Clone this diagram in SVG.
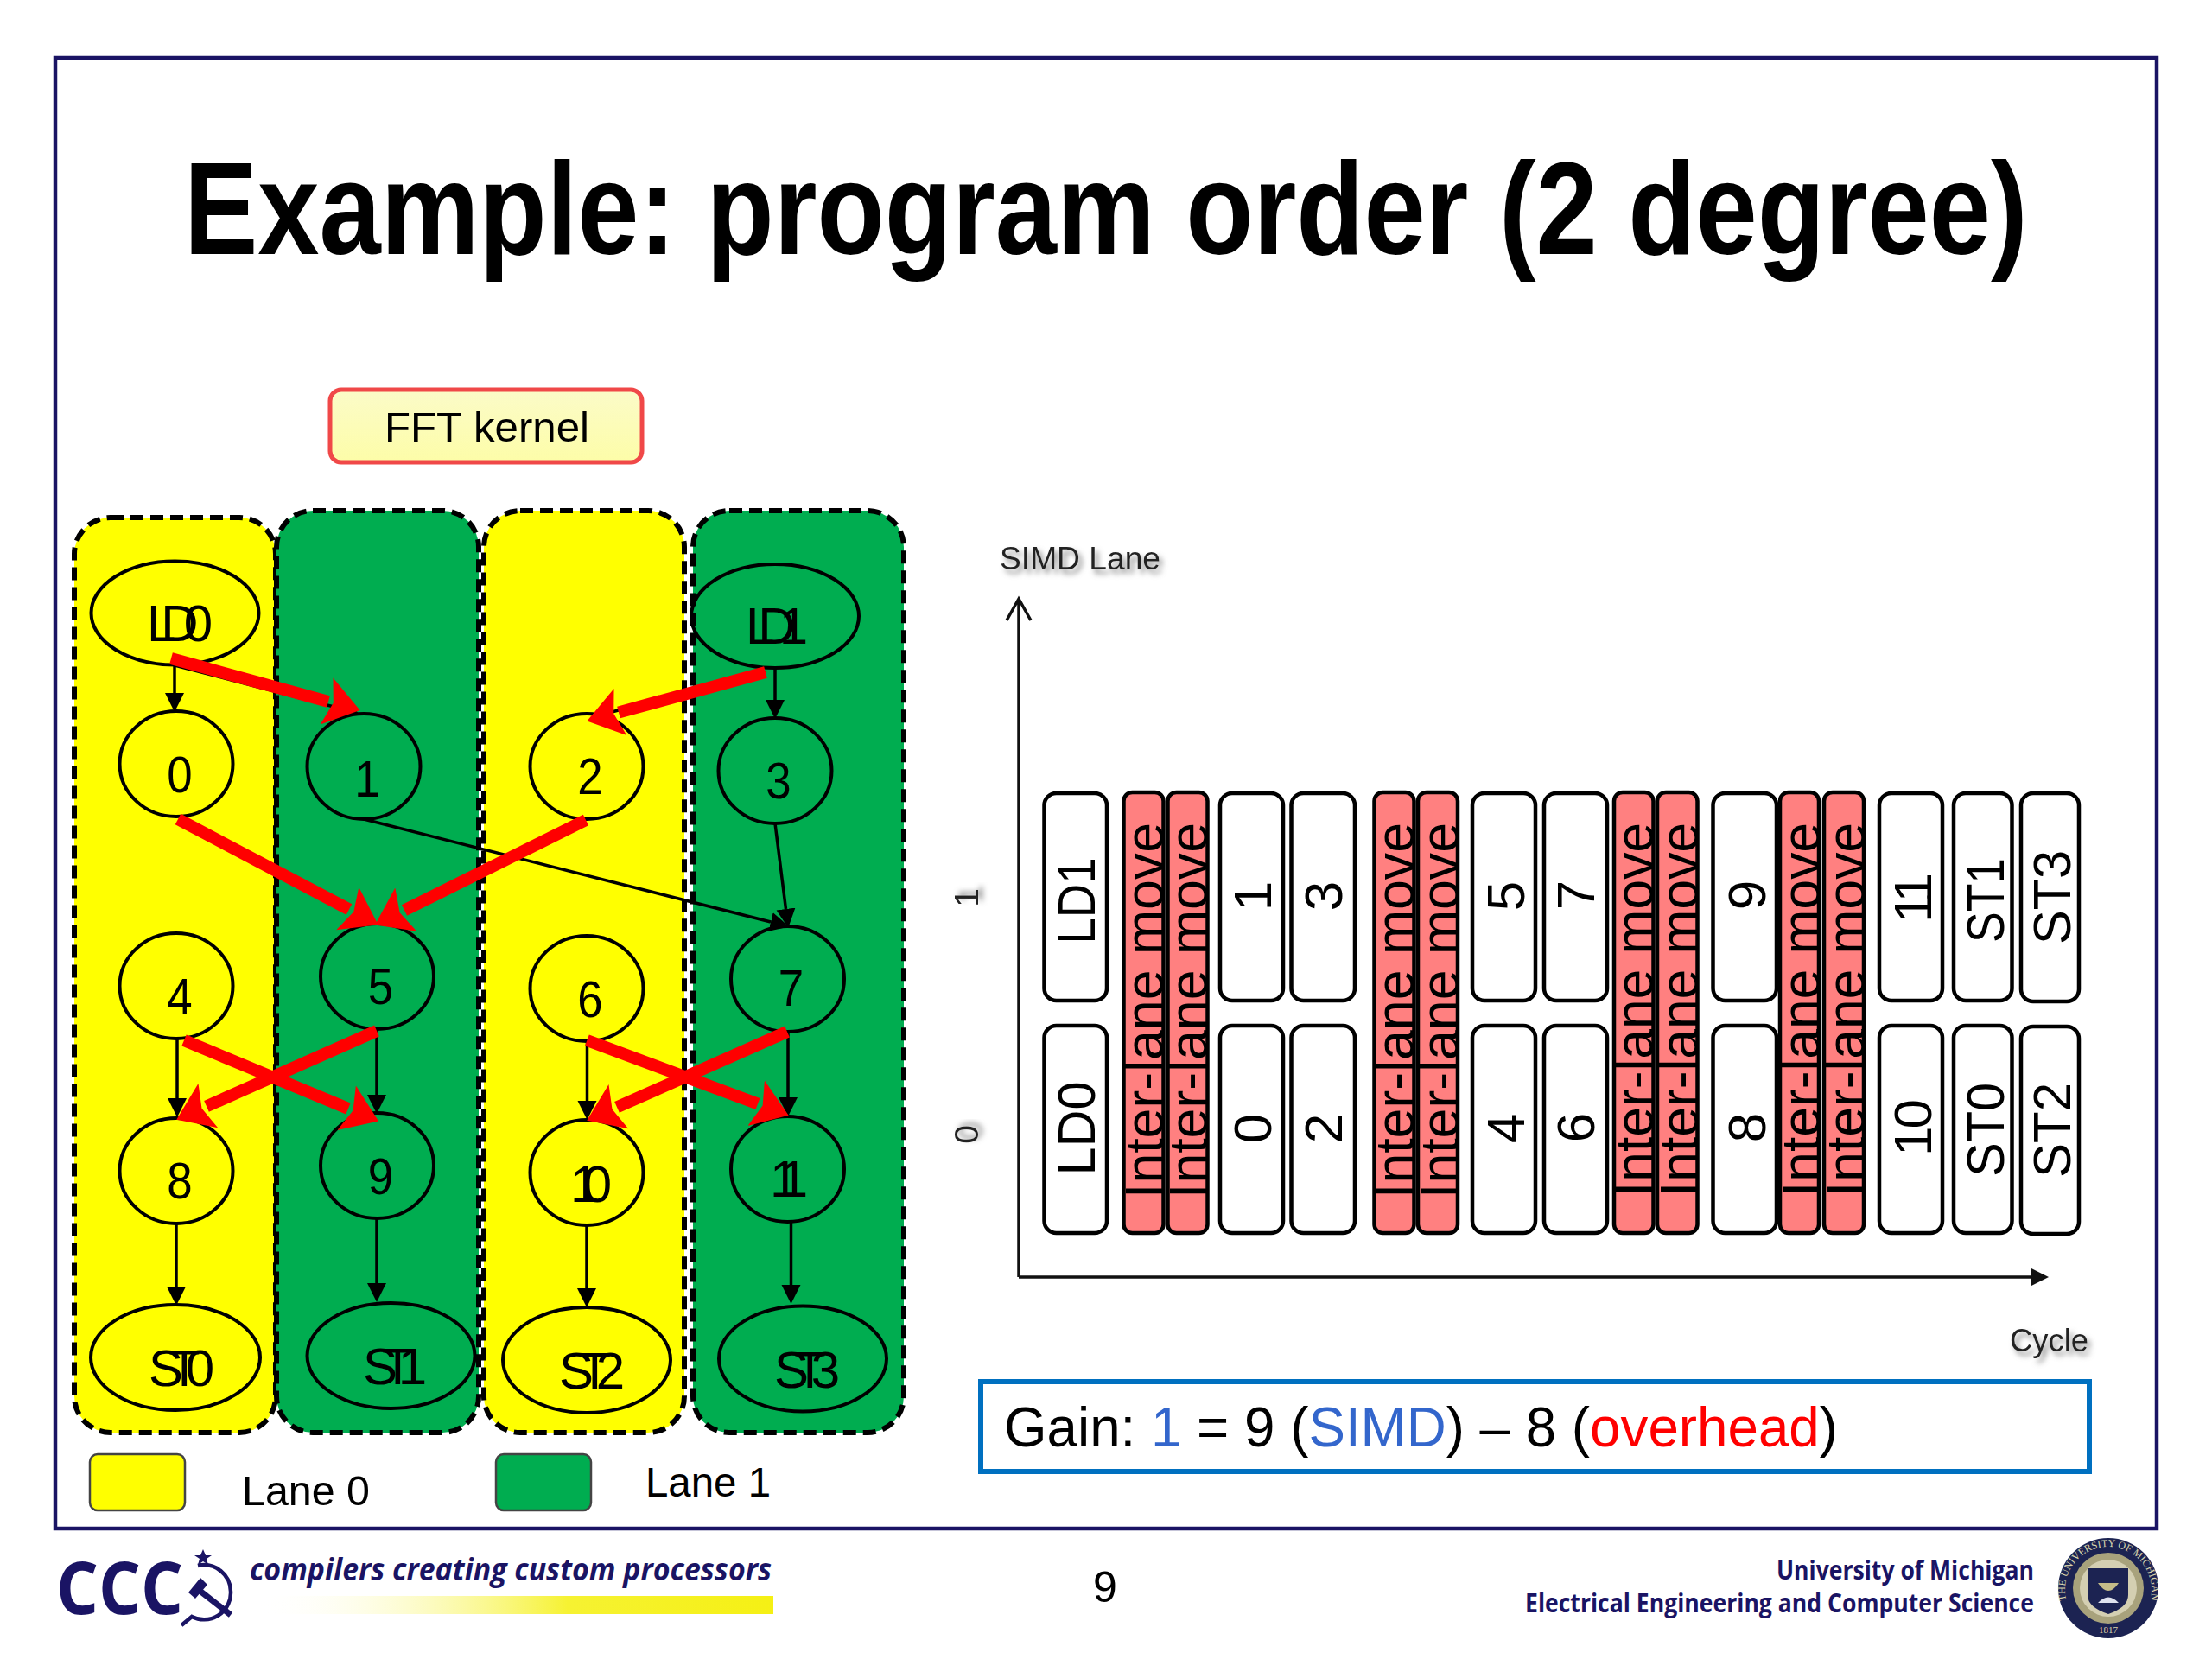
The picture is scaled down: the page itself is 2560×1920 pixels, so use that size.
<svg xmlns="http://www.w3.org/2000/svg" width="2560" height="1920" viewBox="0 0 2560 1920">
<style>
text{font-family:"Liberation Sans",Arial,sans-serif;fill:#000}
.lane{stroke:#000;stroke-width:6;stroke-dasharray:15 8}
.y{fill:#ffff00}.g{fill:#00ad50}
.n{fill:none;stroke:#000;stroke-width:4}
.nl{font-size:60px}
.c{text-anchor:middle}
.bk{fill:none;stroke:#000;stroke-width:3.5;marker-end:url(#hb)}
.rd{fill:none;stroke:#f00;stroke-width:14;marker-end:url(#hr)}
.box{fill:#fff;stroke:#000;stroke-width:4.5}
.il{fill:#ff8080;stroke:#000;stroke-width:4.5}
.ilt{font-size:63px}
.bt{font-size:62px}
.ax{font-size:39px;fill:#222;filter:url(#sh)}
.ft{font-family:"Open Sans","Noto Sans",sans-serif;font-weight:700;fill:#1a1464}
</style>
<defs>
<marker id="hb" markerUnits="userSpaceOnUse" markerWidth="24" markerHeight="24" refX="0" refY="12" orient="auto"><path d="M0 1L22 12L0 23z" fill="#000"/></marker>
<marker id="hr" markerUnits="userSpaceOnUse" markerWidth="44" markerHeight="60" refX="2" refY="30" orient="auto"><path d="M0 2L40 30L0 58L8 30z" fill="#f00"/></marker>
<linearGradient id="fft" x1="0" y1="0" x2="0" y2="1"><stop offset="0" stop-color="#fbfbc8"/><stop offset="1" stop-color="#fdfda8"/></linearGradient>
<linearGradient id="bar" x1="0" y1="0" x2="1" y2="0"><stop offset="0" stop-color="#fff" stop-opacity="0"/><stop offset=".6" stop-color="#f6f232"/><stop offset="1" stop-color="#f5f014"/></linearGradient>
<filter id="sh" x="-20%" y="-40%" width="150%" height="200%"><feDropShadow dx="4" dy="5" stdDeviation="3" flood-color="#888"/></filter>
<path id="sealtop" d="M2391 1850A50 50 0 1 1 2489 1850"/>
</defs>
<rect width="2560" height="1920" fill="#fff"/>
<rect id="frame" x="64" y="67" width="2432" height="1702" fill="none" stroke="#1a1464" stroke-width="4.5"/>
<text id="title" transform="translate(213 294) scale(.842 1)" font-size="152" font-weight="700">Example: program order (2 degree)</text>

<g id="fft-kernel">
<rect x="382" y="451" width="361" height="84" rx="13" fill="url(#fft)" stroke="#f04848" stroke-width="5"/>
<text x="445" y="511" font-size="49" textLength="237" lengthAdjust="spacingAndGlyphs">FFT kernel</text>
</g>

<g id="lanes">
<rect id="lane-a" class="lane y" x="86" y="599" width="233" height="1059" rx="42"/>
<rect id="lane-b" class="lane g" x="320" y="591" width="234" height="1067" rx="42"/>
<rect id="lane-c" class="lane y" x="560" y="591" width="232" height="1067" rx="42"/>
<rect id="lane-d" class="lane g" x="802" y="591" width="244" height="1067" rx="42"/>
</g>

<g id="node-ld0"><ellipse class="n" cx="202.5" cy="709.5" rx="97" ry="60"/><text class="nl" x="170" y="742" textLength="76">LD0</text></g>
<g id="node-ld1"><ellipse class="n" cx="897" cy="713" rx="97" ry="60"/><text class="nl" x="863" y="745" textLength="72">LD1</text></g>
<g id="node-0"><ellipse class="n" cx="204" cy="884" rx="65.5" ry="61"/><text class="nl c" transform="translate(208 917) scale(.88 1)">0</text></g>
<g id="node-1"><ellipse class="n" cx="421" cy="887" rx="65.5" ry="61"/><text class="nl c" transform="translate(425 922) scale(.88 1)">1</text></g>
<g id="node-2"><ellipse class="n" cx="679" cy="887" rx="65.5" ry="61"/><text class="nl c" transform="translate(683 919) scale(.88 1)">2</text></g>
<g id="node-3"><ellipse class="n" cx="897" cy="892" rx="65.5" ry="61"/><text class="nl c" transform="translate(901 924) scale(.88 1)">3</text></g>
<g id="node-4"><ellipse class="n" cx="204" cy="1141" rx="65.5" ry="61"/><text class="nl c" transform="translate(208 1174) scale(.88 1)">4</text></g>
<g id="node-5"><ellipse class="n" cx="436.5" cy="1130" rx="65.5" ry="61"/><text class="nl c" transform="translate(440.5 1162) scale(.88 1)">5</text></g>
<g id="node-6"><ellipse class="n" cx="679" cy="1144" rx="65.5" ry="61"/><text class="nl c" transform="translate(683 1177) scale(.88 1)">6</text></g>
<g id="node-7"><ellipse class="n" cx="911.5" cy="1133" rx="65.5" ry="61"/><text class="nl c" transform="translate(915.5 1164) scale(.88 1)">7</text></g>
<g id="node-8"><ellipse class="n" cx="204" cy="1355" rx="65.5" ry="61"/><text class="nl c" transform="translate(208 1387) scale(.88 1)">8</text></g>
<g id="node-9"><ellipse class="n" cx="436.5" cy="1349" rx="65.5" ry="61"/><text class="nl c" transform="translate(440.5 1382) scale(.88 1)">9</text></g>
<g id="node-10"><ellipse class="n" cx="679" cy="1357" rx="65.5" ry="61"/><text class="nl" x="660" y="1391" textLength="48">10</text></g>
<g id="node-11"><ellipse class="n" cx="911.5" cy="1353" rx="65.5" ry="61"/><text class="nl" x="891" y="1385" textLength="44">11</text></g>
<g id="node-st0"><ellipse class="n" cx="203" cy="1571" rx="98" ry="61"/><text class="nl" x="172" y="1604" textLength="76">ST0</text></g>
<g id="node-st1"><ellipse class="n" cx="452.5" cy="1569" rx="97" ry="61"/><text class="nl" x="420" y="1602" textLength="74">ST1</text></g>
<g id="node-st2"><ellipse class="n" cx="679" cy="1574" rx="97" ry="61"/><text class="nl" x="647" y="1607" textLength="76">ST2</text></g>
<g id="node-st3"><ellipse class="n" cx="929" cy="1572.5" rx="97" ry="61"/><text class="nl" x="896" y="1606" textLength="76">ST3</text></g>

<g id="connectors">
<path class="bk" d="M202 770V802"/>
<path class="bk" d="M202 770L394 820"/>
<path class="bk" d="M897 773V810"/>
<path class="bk" d="M886 778L708 824"/>
<path class="bk" d="M421 948L892 1067"/>
<path class="bk" d="M897 953L909.5 1052"/>
<path class="bk" d="M205 1201V1271"/>
<path class="bk" d="M436 1190V1267"/>
<path class="bk" d="M679.5 1204V1274"/>
<path class="bk" d="M912 1194V1270"/>
<path class="bk" d="M204 1416V1489"/>
<path class="bk" d="M436 1410V1485"/>
<path class="bk" d="M679 1418V1491"/>
<path class="bk" d="M915.5 1414V1487"/>
<path class="rd" d="M198 762L380 812"/>
<path class="rd" d="M886 778L716 824.5"/>
<path class="rd" d="M206 948L404 1052.5"/>
<path class="rd" d="M678 949L468 1053.5"/>
<path class="rd" d="M213 1204L403 1283"/>
<path class="rd" d="M436 1193L239 1280.4"/>
<path class="rd" d="M679.4 1204L877 1277.5"/>
<path class="rd" d="M911 1194L714 1281.4"/>
</g>

<g id="legend">
<rect x="104" y="1683" width="110" height="65" rx="9" fill="#ffff00" stroke="#444" stroke-width="2.5"/>
<text x="280" y="1742" font-size="48" textLength="148" lengthAdjust="spacingAndGlyphs">Lane 0</text>
<rect x="574" y="1683" width="110" height="65" rx="9" fill="#00ad50" stroke="#444" stroke-width="2.5"/>
<text x="747" y="1732" font-size="48" textLength="145" lengthAdjust="spacingAndGlyphs">Lane 1</text>
</g>

<g id="axes" fill="none" stroke="#111" stroke-width="3.5">
<path d="M1179 1478V694M1165 718L1179 693L1193 718"/>
<path d="M1179 1478H2352"/>
<path d="M2351 1468L2371 1478L2351 1488z" fill="#111" stroke="none"/>
</g>
<text x="1157" y="659" font-size="37" style="fill:#222;filter:url(#sh)" textLength="186" lengthAdjust="spacingAndGlyphs">SIMD Lane</text>
<text x="2326" y="1564" font-size="37" style="fill:#222;filter:url(#sh)" textLength="91" lengthAdjust="spacingAndGlyphs">Cycle</text>
<text class="ax c" transform="translate(1132 1039) rotate(-90)">1</text>
<text class="ax c" transform="translate(1132 1313) rotate(-90)">0</text>

<g id="schedule">
<g id="op-ld1"><rect class="box" x="1208.5" y="918" width="72.5" height="240" rx="14"/><text class="bt" transform="translate(1267 1092.5) rotate(-90)" textLength="100" lengthAdjust="spacingAndGlyphs">LD1</text></g>
<g id="op-ld0"><rect class="box" x="1208.5" y="1187" width="72.5" height="240" rx="14"/><text class="bt" transform="translate(1267 1360.5) rotate(-90)" textLength="109" lengthAdjust="spacingAndGlyphs">LD0</text></g>
<g id="move-1"><rect class="il" x="1300.5" y="917" width="46" height="510" rx="10"/><text class="ilt" transform="translate(1346 1387) rotate(-90)" textLength="435" lengthAdjust="spacingAndGlyphs">Inter-lane move</text></g>
<g id="move-2"><rect class="il" x="1351.5" y="917" width="46" height="510" rx="10"/><text class="ilt" transform="translate(1397 1387) rotate(-90)" textLength="435" lengthAdjust="spacingAndGlyphs">Inter-lane move</text></g>
<g id="op-1"><rect class="box" x="1412" y="918" width="73" height="240" rx="14"/><text class="bt c" transform="translate(1471 1037) rotate(-90)">1</text></g>
<g id="op-0"><rect class="box" x="1412" y="1187" width="73" height="240" rx="14"/><text class="bt c" transform="translate(1471 1306) rotate(-90)">0</text></g>
<g id="op-3"><rect class="box" x="1494.5" y="918" width="73.5" height="240" rx="14"/><text class="bt c" transform="translate(1553 1037) rotate(-90)">3</text></g>
<g id="op-2"><rect class="box" x="1494.5" y="1187" width="73.5" height="240" rx="14"/><text class="bt c" transform="translate(1553 1306) rotate(-90)">2</text></g>
<g id="move-3"><rect class="il" x="1590.5" y="917" width="46" height="510" rx="10"/><text class="ilt" transform="translate(1636 1387) rotate(-90)" textLength="435" lengthAdjust="spacingAndGlyphs">Inter-lane move</text></g>
<g id="move-4"><rect class="il" x="1641" y="917" width="46" height="510" rx="10"/><text class="ilt" transform="translate(1687.5 1387) rotate(-90)" textLength="435" lengthAdjust="spacingAndGlyphs">Inter-lane move</text></g>
<g id="op-5"><rect class="box" x="1704" y="918" width="73" height="240" rx="14"/><text class="bt c" transform="translate(1764 1037) rotate(-90)">5</text></g>
<g id="op-4"><rect class="box" x="1704" y="1187" width="73" height="240" rx="14"/><text class="bt c" transform="translate(1764 1306) rotate(-90)">4</text></g>
<g id="op-7"><rect class="box" x="1787" y="918" width="73" height="240" rx="14"/><text class="bt c" transform="translate(1845 1036) rotate(-90)">7</text></g>
<g id="op-6"><rect class="box" x="1787" y="1187" width="73" height="240" rx="14"/><text class="bt c" transform="translate(1845 1305) rotate(-90)">6</text></g>
<g id="move-5"><rect class="il" x="1868" y="917" width="45.5" height="510" rx="10"/><text class="ilt" transform="translate(1913 1385) rotate(-90)" textLength="433" lengthAdjust="spacingAndGlyphs">Inter-lane move</text></g>
<g id="move-6"><rect class="il" x="1918" y="917" width="46.5" height="510" rx="10"/><text class="ilt" transform="translate(1965 1385) rotate(-90)" textLength="433" lengthAdjust="spacingAndGlyphs">Inter-lane move</text></g>
<g id="op-9"><rect class="box" x="1982.5" y="918" width="73.5" height="240" rx="14"/><text class="bt c" transform="translate(2043 1036) rotate(-90)">9</text></g>
<g id="op-8"><rect class="box" x="1982.5" y="1187" width="73.5" height="240" rx="14"/><text class="bt c" transform="translate(2043 1305) rotate(-90)">8</text></g>
<g id="move-7"><rect class="il" x="2060" y="917" width="45" height="510" rx="10"/><text class="ilt" transform="translate(2106 1385) rotate(-90)" textLength="433" lengthAdjust="spacingAndGlyphs">Inter-lane move</text></g>
<g id="move-8"><rect class="il" x="2111" y="917" width="46" height="510" rx="10"/><text class="ilt" transform="translate(2158 1385) rotate(-90)" textLength="433" lengthAdjust="spacingAndGlyphs">Inter-lane move</text></g>
<g id="op-11"><rect class="box" x="2175" y="918" width="73" height="240" rx="14"/><text class="bt" transform="translate(2235 1068) rotate(-90)" textLength="58">11</text></g>
<g id="op-10"><rect class="box" x="2175" y="1187" width="73" height="240" rx="14"/><text class="bt" transform="translate(2235 1338) rotate(-90)" textLength="66">10</text></g>
<g id="op-st1"><rect class="box" x="2261" y="918" width="67.5" height="240" rx="14"/><text class="bt" transform="translate(2319 1091) rotate(-90)" textLength="98" lengthAdjust="spacingAndGlyphs">ST1</text></g>
<g id="op-st0"><rect class="box" x="2261" y="1187" width="67.5" height="240" rx="14"/><text class="bt" transform="translate(2319 1362) rotate(-90)" textLength="109" lengthAdjust="spacingAndGlyphs">ST0</text></g>
<g id="op-st3"><rect class="box" x="2339" y="918" width="67" height="241" rx="14"/><text class="bt" transform="translate(2396 1093) rotate(-90)" textLength="109" lengthAdjust="spacingAndGlyphs">ST3</text></g>
<g id="op-st2"><rect class="box" x="2339" y="1188" width="67" height="240" rx="14"/><text class="bt" transform="translate(2396 1363) rotate(-90)" textLength="110" lengthAdjust="spacingAndGlyphs">ST2</text></g>
</g>

<g id="gain">
<rect x="1135" y="1599" width="1283" height="104" fill="#fff" stroke="#0070c0" stroke-width="6"/>
<text x="1162" y="1674" font-size="64" textLength="965" lengthAdjust="spacingAndGlyphs">Gain: <tspan fill="#3366cc" style="fill:#3366cc">1</tspan> = 9 (<tspan style="fill:#3366cc">SIMD</tspan>) – 8 (<tspan style="fill:#f00">overhead</tspan>)</text>
</g>

<g id="footer-left">
<text class="ft" x="65" y="1868" font-size="84" textLength="147" lengthAdjust="spacingAndGlyphs">CCC</text>
<path d="M235 1793l3 7h7l-6 4 2 7-6-4-6 4 2-7-6-4h7z" fill="#1a1464"/>
<path d="M229 1812A31 31 0 0 1 267 1842A31 31 0 0 1 222 1871L210 1881" fill="none" stroke="#1a1464" stroke-width="4.5"/>
<path d="M230 1840L267 1869" fill="none" stroke="#1a1464" stroke-width="7"/>
<path d="M232 1826L218 1843L226 1850L240 1834z" fill="#1a1464"/>
<text class="ft" x="289" y="1829" font-size="36" font-style="italic" textLength="604" lengthAdjust="spacingAndGlyphs">compilers creating custom processors</text>
<rect x="300" y="1847" width="595" height="21" fill="url(#bar)"/>
</g>
<text id="page" class="c" x="1279" y="1854" font-size="50">9</text>
<g id="footer-right">
<text class="ft" x="2056" y="1828" font-size="30" textLength="298" lengthAdjust="spacingAndGlyphs">University of Michigan</text>
<text class="ft" x="1765" y="1866" font-size="30" textLength="589" lengthAdjust="spacingAndGlyphs">Electrical Engineering and Computer Science</text>
<g id="seal">
<ellipse cx="2440" cy="1838" rx="58" ry="58" fill="#1c2352"/>
<circle cx="2440" cy="1838" r="41" fill="#a8a27c"/>
<circle cx="2440" cy="1838" r="33" fill="#d4cfb2"/>
<path d="M2416 1815H2463V1846Q2463 1860 2440 1868Q2416 1860 2416 1846z" fill="#1c2352"/>
<path d="M2428 1832Q2440 1850 2452 1832Z" fill="#c4bb88"/>
<path d="M2428 1855Q2440 1842 2452 1855z" fill="#dfe2ee"/>
<text font-size="12" style="fill:#d8d3ac;font-family:'Liberation Serif',serif"><textPath href="#sealtop" startOffset="50%" text-anchor="middle">THE UNIVERSITY OF MICHIGAN</textPath></text>
<text class="c" x="2440" y="1890" font-size="11" style="fill:#d8d3ac;font-family:'Liberation Serif',serif">1817</text>
</g>
</g>
</svg>
